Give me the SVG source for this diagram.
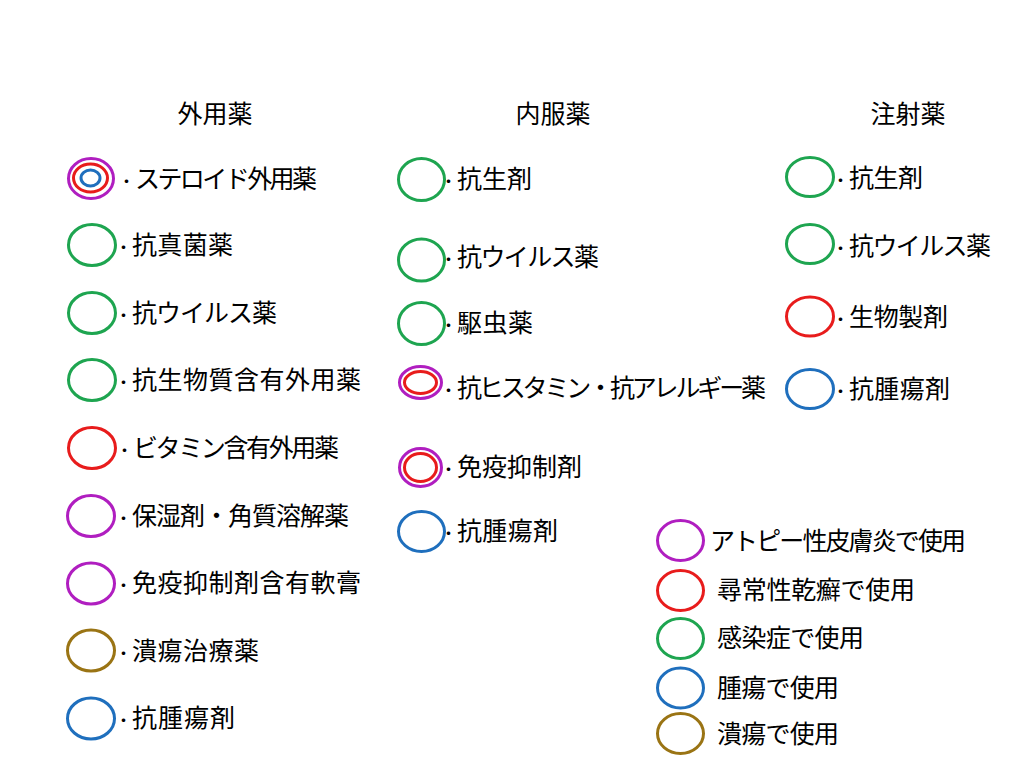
<svg xmlns="http://www.w3.org/2000/svg" width="1024" height="768" viewBox="0 0 1024 768">
<style>
text{font-family:"Liberation Sans","Noto Sans CJK JP",sans-serif;font-size:25px;fill:#000}
.h{text-anchor:middle}
.d{font-size:17px}
ellipse{fill:none;stroke-width:3}
.p{stroke:#B01EC0}.r{stroke:#E81C1C}.g{stroke:#1EA550}.b{stroke:#1F6FBD}.o{stroke:#9A7414}
</style>
<rect width="1024" height="768" fill="#fff"/>
<g id="headers">
<text class="h" x="215" y="123">外用薬</text>
<text class="h" x="553" y="123">内服薬</text>
<text class="h" x="908" y="123">注射薬</text>
</g>
<g id="external">
<g id="e1"><ellipse class="p" cx="91" cy="178.5" rx="22.5" ry="20"/><ellipse class="r" cx="90.5" cy="178" rx="17" ry="14"/><ellipse class="b" cx="90.5" cy="178" rx="9.5" ry="8"/><text y="188"><tspan class="d" x="118">・</tspan><tspan x="135" textLength="182" lengthAdjust="spacing">ステロイド外用薬</tspan></text></g>
<g id="e2"><ellipse class="g" cx="92" cy="245" rx="23.5" ry="20.5"/><text y="254"><tspan class="d" x="115">・</tspan><tspan x="132" textLength="101" lengthAdjust="spacing">抗真菌薬</tspan></text></g>
<g id="e3"><ellipse class="g" cx="92" cy="313" rx="23.5" ry="20.5"/><text y="322"><tspan class="d" x="115">・</tspan><tspan x="132" textLength="145" lengthAdjust="spacing">抗ウイルス薬</tspan></text></g>
<g id="e4"><ellipse class="g" cx="92" cy="380" rx="23.5" ry="20.5"/><text y="389"><tspan class="d" x="115">・</tspan><tspan x="132" textLength="229" lengthAdjust="spacing">抗生物質含有外用薬</tspan></text></g>
<g id="e5"><ellipse class="r" cx="92" cy="448" rx="23.5" ry="20.5"/><text y="457"><tspan class="d" x="116">・</tspan><tspan x="133" textLength="206" lengthAdjust="spacing">ビタミン含有外用薬</tspan></text></g>
<g id="e6"><ellipse class="p" cx="91" cy="516" rx="23.5" ry="20.5"/><text y="525"><tspan class="d" x="115">・</tspan><tspan x="132" textLength="217" lengthAdjust="spacing">保湿剤・角質溶解薬</tspan></text></g>
<g id="e7"><ellipse class="p" cx="91" cy="583.5" rx="23.5" ry="20.5"/><text y="592"><tspan class="d" x="115">・</tspan><tspan x="132" textLength="229" lengthAdjust="spacing">免疫抑制剤含有軟膏</tspan></text></g>
<g id="e8"><ellipse class="o" cx="91" cy="650.5" rx="23.5" ry="20.5"/><text y="660"><tspan class="d" x="115">・</tspan><tspan x="132" textLength="127" lengthAdjust="spacing">潰瘍治療薬</tspan></text></g>
<g id="e9"><ellipse class="b" cx="91" cy="718.5" rx="23.5" ry="20.5"/><text y="727"><tspan class="d" x="115">・</tspan><tspan x="132" textLength="103" lengthAdjust="spacing">抗腫瘍剤</tspan></text></g>
</g>
<g id="oral">
<g id="o1"><ellipse class="g" cx="421.5" cy="179.5" rx="23" ry="21"/><text y="188"><tspan class="d" x="440">・</tspan><tspan x="457" textLength="75" lengthAdjust="spacing">抗生剤</tspan></text></g>
<g id="o2"><ellipse class="g" cx="421.5" cy="260" rx="23" ry="21"/><text y="266"><tspan class="d" x="440">・</tspan><tspan x="457" textLength="142" lengthAdjust="spacing">抗ウイルス薬</tspan></text></g>
<g id="o3"><ellipse class="g" cx="421.5" cy="323.5" rx="23" ry="21"/><text y="332"><tspan class="d" x="440">・</tspan><tspan x="457" textLength="76" lengthAdjust="spacing">駆虫薬</tspan></text></g>
<g id="o4"><ellipse class="p" cx="420.5" cy="382.5" rx="21" ry="16"/><ellipse class="r" cx="420.5" cy="382.5" rx="16" ry="11"/><text y="397"><tspan class="d" x="440">・</tspan><tspan x="457" textLength="309" lengthAdjust="spacing">抗ヒスタミン・抗アレルギー薬</tspan></text></g>
<g id="o5"><ellipse class="p" cx="420.5" cy="467.5" rx="21" ry="19"/><ellipse class="r" cx="420.5" cy="467.5" rx="16" ry="14"/><text y="476"><tspan class="d" x="440">・</tspan><tspan x="457" textLength="125" lengthAdjust="spacing">免疫抑制剤</tspan></text></g>
<g id="o6"><ellipse class="b" cx="421.5" cy="531.5" rx="23" ry="20"/><text y="540"><tspan class="d" x="440">・</tspan><tspan x="457" textLength="101" lengthAdjust="spacing">抗腫瘍剤</tspan></text></g>
</g>
<g id="injection">
<g id="i1"><ellipse class="g" cx="810" cy="177" rx="23.5" ry="19.5"/><text y="187"><tspan class="d" x="832">・</tspan><tspan x="849" textLength="74" lengthAdjust="spacing">抗生剤</tspan></text></g>
<g id="i2"><ellipse class="g" cx="810" cy="244" rx="23.5" ry="19.5"/><text y="255"><tspan class="d" x="832">・</tspan><tspan x="849" textLength="142" lengthAdjust="spacing">抗ウイルス薬</tspan></text></g>
<g id="i3"><ellipse class="r" cx="810" cy="316.5" rx="23.5" ry="19.5"/><text y="326"><tspan class="d" x="832">・</tspan><tspan x="849" textLength="99" lengthAdjust="spacing">生物製剤</tspan></text></g>
<g id="i4"><ellipse class="b" cx="810" cy="389" rx="23.5" ry="19.5"/><text y="398"><tspan class="d" x="832">・</tspan><tspan x="849" textLength="101" lengthAdjust="spacing">抗腫瘍剤</tspan></text></g>
</g>
<g id="legend">
<g id="l1"><ellipse class="p" cx="680.5" cy="540.5" rx="23" ry="20"/><text x="710" y="550" textLength="256" lengthAdjust="spacing">アトピー性皮膚炎で使用</text></g>
<g id="l2"><ellipse class="r" cx="680.5" cy="590.5" rx="23" ry="20"/><text x="717" y="599" textLength="198" lengthAdjust="spacing">尋常性乾癬で使用</text></g>
<g id="l3"><ellipse class="g" cx="680.5" cy="638.5" rx="23" ry="20"/><text x="717" y="647" textLength="147" lengthAdjust="spacing">感染症で使用</text></g>
<g id="l4"><ellipse class="b" cx="680.5" cy="688" rx="23" ry="20"/><text x="717" y="697" textLength="122" lengthAdjust="spacing">腫瘍で使用</text></g>
<g id="l5"><ellipse class="o" cx="680.5" cy="733.5" rx="23" ry="20"/><text x="717" y="743" textLength="122" lengthAdjust="spacing">潰瘍で使用</text></g>
</g>
<g id="connectors"/>
</svg>
